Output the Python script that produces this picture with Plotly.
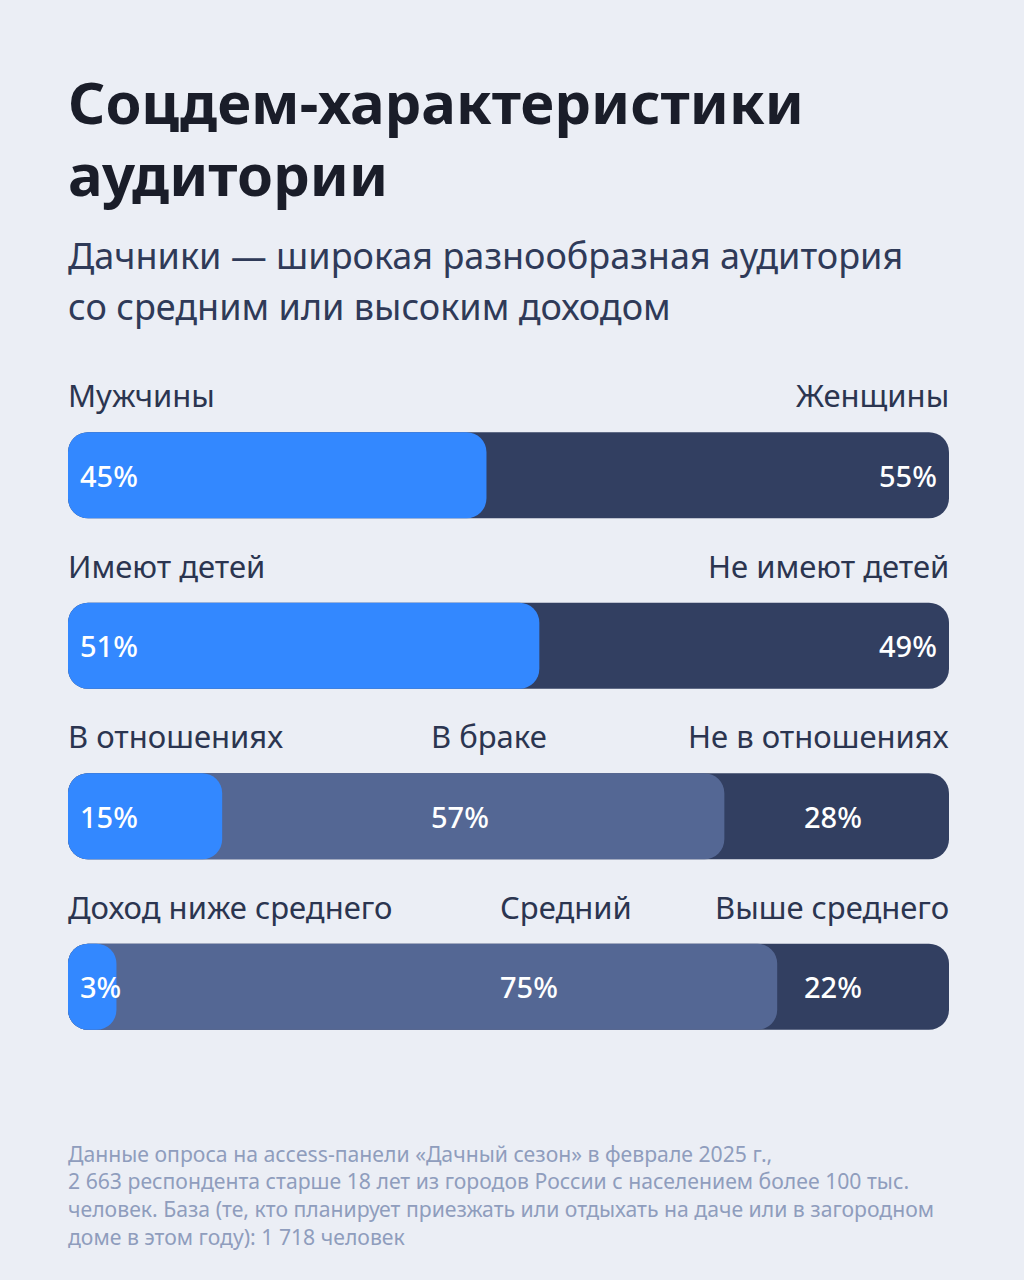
import plotly.graph_objects as go

# data
rows = ["Пол", "Дети", "Семейное положение", "Доход"]
left_labels = ["Мужчины", "Имеют детей", "В отношениях", "Доход ниже среднего"]
mid_labels = [None, None, "В браке", "Средний"]
right_labels = ["Женщины", "Не имеют детей", "Не в отношениях", "Выше среднего"]
left_vals = [45, 51, 15, 3]
mid_vals = [None, None, 57, 75]
right_vals = [55, 49, 28, 22]

title_lines = ["Соцдем-характеристики", "аудитории"]
subtitle_lines = ["Дачники — широкая разнообразная аудитория",
                  "со средним или высоким доходом"]
note_lines = [
    "Данные опроса на access-панели «Дачный сезон» в феврале 2025 г.,",
    "2 663 респондента старше 18 лет из городов России с населением более 100 тыс.",
    "человек. База (те, кто планирует приезжать или отдыхать на даче или в загородном",
    "доме в этом году): 1 718 человек",
]

BG = "#ebeef5"
BLUE = "#3388ff"
MID = "#546794"
DARK = "#323f61"
FONT = "Noto Sans"

W, H = 1024, 1280
T, B = 390, 208  # plot area top / bottom margin in px


def py(px):
    # page pixel -> paper y
    return (H - B - px) / (H - T - B)


n = len(rows)
ys = list(range(n))
overlap = 2.5  # overlay bar reaches a bit past its value so the rounded cap sits on the next part

# layer ends: dark = whole bar, mid = left + mid, blue = left
dark_end = [l + (m or 0) + r for l, m, r in zip(left_vals, mid_vals, right_vals)]
mid_end = [None if m is None else l + m + overlap for l, m in zip(left_vals, mid_vals)]
blue_end = [l + overlap for l in left_vals]

fig = go.Figure()
for ends, color in [(dark_end, DARK), (mid_end, MID), (blue_end, BLUE)]:
    # explicit base -> plotly rounds both ends of the bar
    fig.add_trace(go.Bar(
        y=ys,
        x=ends,
        base=[None if e is None else 0 for e in ends],
        orientation="h",
        width=0.505,
        marker=dict(color=color, line_width=0, cornerradius=20),
        hoverinfo="skip",
        showlegend=False,
    ))

ann = []
hdr = dict(size=31, color="#2b3550", family=FONT)
val = dict(size=29, color="white", family=FONT, weight=500)
mid_x = {2: 41.2, 3: 49}
right_x = 83.5

for i in ys:
    total = dark_end[i]
    ann.append(dict(x=0, y=i, text=left_labels[i], xanchor="left", yshift=80, font=hdr))
    ann.append(dict(x=total, y=i, text=right_labels[i], xanchor="right", yshift=80, font=hdr))
    ann.append(dict(x=0, y=i, text=f"{left_vals[i]}%", xanchor="left", xshift=12, font=val))
    if mid_vals[i] is None:
        ann.append(dict(x=total, y=i, text=f"{right_vals[i]}%", xanchor="right", xshift=-12, font=val))
    else:
        ann.append(dict(x=mid_x[i], y=i, text=mid_labels[i], xanchor="left", yshift=80, font=hdr))
        ann.append(dict(x=mid_x[i], y=i, text=f"{mid_vals[i]}%", xanchor="left", font=val))
        ann.append(dict(x=right_x, y=i, text=f"{right_vals[i]}%", xanchor="left", font=val))

for a in ann:
    a.update(xref="x", yref="y", showarrow=False, yanchor="middle")

for k, line in enumerate(title_lines):
    ann.append(dict(xref="paper", yref="paper", x=0, y=py(102 + k * 71), text=line,
                    xanchor="left", yanchor="middle", showarrow=False,
                    font=dict(size=58, color="#1a1d29", family=FONT, weight=700)))
for k, line in enumerate(subtitle_lines):
    ann.append(dict(xref="paper", yref="paper", x=0, y=py(256 + k * 50), text=line,
                    xanchor="left", yanchor="middle", showarrow=False,
                    font=dict(size=36, color="#2f3a58", family=FONT)))
for k, line in enumerate(note_lines):
    ann.append(dict(xref="paper", yref="paper", x=0, y=py(1153 + k * 27.7), text=line,
                    xanchor="left", yanchor="middle", showarrow=False,
                    font=dict(size=21.2, color="#8f9dbd", family=FONT)))

for a in ann:
    a.update(borderpad=0, borderwidth=0)

fig.update_layout(
    width=W, height=H,
    margin=dict(l=68, r=75, t=T, b=B),
    paper_bgcolor=BG, plot_bgcolor=BG,
    barmode="overlay",
    xaxis=dict(range=[0, 100], visible=False, fixedrange=True),
    yaxis=dict(range=[n - 0.5, -0.5], visible=False, fixedrange=True),
    annotations=ann,
    font=dict(family=FONT),
)

fig.write_html(
    "out.html",
    config={"displayModeBar": False},
    post_script=f"document.body.style.margin='0';document.body.style.background='{BG}';",
)
